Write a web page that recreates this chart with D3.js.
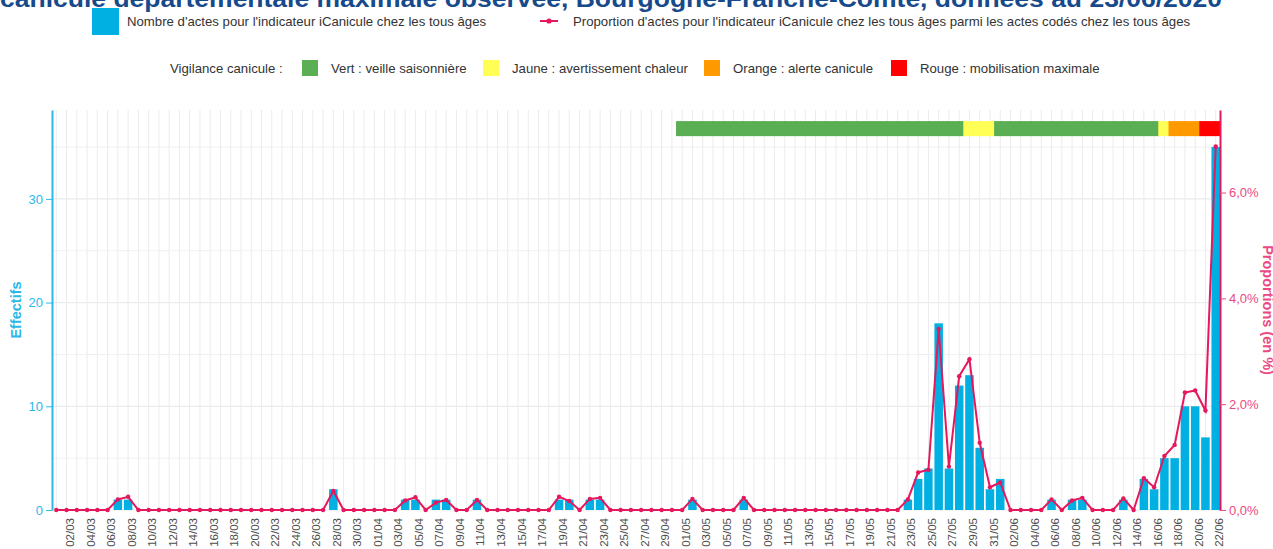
<!DOCTYPE html>
<html>
<head>
<meta charset="utf-8">
<script src="https://cdn.jsdelivr.net/npm/d3@7"></script>
<style>
  body { margin: 0; background: #fff; }
  svg text { font-family: "Liberation Sans", Arial, sans-serif; }
</style>
</head>
<body>
<svg id="chart" width="1273" height="549"></svg>
<script>
// categories : un jour par barre, du 01/03 au 22/06
var days = d3.timeDay.range(new Date(2020, 2, 1), new Date(2020, 5, 23));
var fmt = d3.timeFormat("%d/%m");
var labels = days.map(fmt);

// nombre d'actes iCanicule (tous ages)
var counts = [
  0,0,0,0,0,0,1,1,0,0,
  0,0,0,0,0,0,0,0,0,0,
  0,0,0,0,0,0,0,2,0,0,
  0,0,0,0,1,1,0,1,1,0,
  0,1,0,0,0,0,0,0,0,1,
  1,0,1,1,0,0,0,0,0,0,
  0,0,1,0,0,0,0,1,0,0,
  0,0,0,0,0,0,0,0,0,0,
  0,0,0,1,3,4,18,4,12,13,
  6,2,3,0,0,0,0,1,0,1,
  1,0,0,0,1,0,3,2,5,5,
  10,10,7,35
];

// proportion parmi les actes codes (en %)
var props = [
  0,0,0,0,0,0,0.20,0.25,0,0,
  0,0,0,0,0,0,0,0,0,0,
  0,0,0,0,0,0,0,0.36,0,0,
  0,0,0,0,0.18,0.24,0,0.14,0.19,0,
  0,0.19,0,0,0,0,0,0,0,0.25,
  0.17,0,0.21,0.23,0,0,0,0,0,0,
  0,0,0.21,0,0,0,0,0.23,0,0,
  0,0,0,0,0,0,0,0,0,0,
  0,0,0,0.20,0.71,0.76,3.42,0.82,2.53,2.85,
  1.27,0.43,0.52,0,0,0,0,0.20,0,0.18,
  0.23,0,0,0,0.22,0,0.60,0.43,1.02,1.23,
  2.22,2.26,1.88,6.87
];

// vigilance canicule : periodes
var vigStart = ["01/05", "29/05", "01/06", "17/06", "18/06", "21/06"];
var vigEnd   = ["28/05", "31/05", "16/06", "17/06", "20/06", "22/06"];
var vigLevel = ["vert", "jaune", "vert", "jaune", "orange", "rouge"];

var vigNames = ["Vert : veille saisonnière", "Jaune : avertissement chaleur",
                "Orange : alerte canicule", "Rouge : mobilisation maximale"];
var vigKeys = ["vert", "jaune", "orange", "rouge"];
var vigColors = ["#5aae53", "#ffff55", "#ff9900", "#ff0000"];

var countTicks = [0, 10, 20, 30];
var countMinor = [5, 15, 25, 35];
var propTicks = [0, 2, 4, 6];

var blue = "#00b0e2", blueTxt = "#2cb8e9";
var pink = "#e5185e", pinkTxt = "#ec4a82";

var svg = d3.select("#chart");
var plotL = 52, plotR = 1220, plotT = 110, plotB = 510;

var x = d3.scalePoint().domain(labels).range([56.3, 1215.7]);
var step = x.step();
var barW = step * 0.83;
var y = d3.scaleLinear().domain([0, 38.57]).range([plotB, plotT]);
var yP = d3.scaleLinear().domain([0, 7.56]).range([plotB, plotT]);
var vigColor = d3.scaleOrdinal().domain(vigKeys).range(vigColors);

// title (cut at the top like the original)
svg.append("text")
  .attr("x", 0).attr("y", 7)
  .attr("textLength", 1222).attr("lengthAdjust", "spacingAndGlyphs")
  .style("font-size", "24px").style("font-weight", "bold").style("fill", "#174a8b")
  .text("canicule départementale maximale observée, Bourgogne-Franche-Comté, données au 23/06/2020");

// grid
var grid = svg.append("g");
grid.selectAll(".gv").data(labels).enter().append("line")
  .attr("x1", function(d) { return x(d); }).attr("x2", function(d) { return x(d); })
  .attr("y1", plotT).attr("y2", plotB)
  .attr("stroke", "#ebebeb").attr("stroke-width", 1);
grid.selectAll(".gm").data(countMinor).enter().append("line")
  .attr("x1", plotL).attr("x2", plotR)
  .attr("y1", function(d) { return y(d); }).attr("y2", function(d) { return y(d); })
  .attr("stroke", "#f0f0f0").attr("stroke-width", 1);
grid.selectAll(".gM").data(countTicks).enter().append("line")
  .attr("x1", plotL).attr("x2", plotR)
  .attr("y1", function(d) { return y(d); }).attr("y2", function(d) { return y(d); })
  .attr("stroke", "#ebebeb").attr("stroke-width", 1.2);

// vigilance band
svg.append("g").selectAll("rect").data(vigLevel).enter().append("rect")
  .attr("x", function(d, i) { return x(vigStart[i]) - step / 2 - 1; })
  .attr("width", function(d, i) { return x(vigEnd[i]) - x(vigStart[i]) + step + 1; })
  .attr("y", y(37.5)).attr("height", y(36.05) - y(37.5))
  .attr("fill", function(d) { return vigColor(d); });

// bars
svg.append("g").selectAll("rect").data(counts).enter().append("rect")
  .attr("x", function(d, i) { return x(labels[i]) - barW / 2; })
  .attr("width", barW)
  .attr("y", function(d) { return y(d); })
  .attr("height", function(d) { return plotB - y(d); })
  .attr("fill", blue);

// line + points
var line = d3.line()
  .x(function(d, i) { return x(labels[i]); })
  .y(function(d) { return yP(d); });
svg.append("path").datum(props)
  .attr("d", line).attr("fill", "none")
  .attr("stroke", pink).attr("stroke-width", 2);
svg.append("g").selectAll("circle").data(props).enter().append("circle")
  .attr("cx", function(d, i) { return x(labels[i]); })
  .attr("cy", function(d) { return yP(d); })
  .attr("r", 2.2).attr("fill", pink);

// axes
var axL = svg.append("g").attr("transform", "translate(" + plotL + ",0)")
  .call(d3.axisLeft(y).tickValues(countTicks).tickSize(6).tickSizeOuter(0).tickPadding(3));
axL.select(".domain").attr("stroke", blueTxt).attr("stroke-width", 2);
axL.selectAll(".tick line").attr("stroke", blueTxt);
axL.selectAll("text").style("font-size", "13px").attr("fill", blueTxt);

var axR = svg.append("g").attr("transform", "translate(" + plotR + ",0)")
  .call(d3.axisRight(yP).tickValues(propTicks).tickSize(6).tickSizeOuter(0).tickPadding(3)
    .tickFormat(function(d) { return d3.format(".1f")(d).replace(".", ",") + "%"; }));
axR.select(".domain").attr("stroke", pink).attr("stroke-width", 2);
axR.selectAll(".tick line").attr("stroke", pinkTxt);
axR.selectAll("text").style("font-size", "13px").attr("fill", pinkTxt);

var axB = svg.append("g").attr("transform", "translate(0," + plotB + ")")
  .call(d3.axisBottom(x).tickValues(labels.filter(function(d, i) { return i % 2 == 1; })).tickSize(0));
axB.select(".domain").remove();
axB.selectAll("text")
  .attr("transform", "rotate(-90)")
  .attr("x", -8).attr("y", 3).attr("dy", "0.35em")
  .style("text-anchor", "end").style("font-size", "11.5px").attr("fill", "#4d4d4d");

// axis titles
svg.append("text")
  .attr("transform", "translate(21,310) rotate(-90)")
  .style("text-anchor", "middle").style("font-size", "14.5px").style("font-weight", "bold")
  .attr("fill", blueTxt).text("Effectifs");
svg.append("text")
  .attr("transform", "translate(1263,310) rotate(90)")
  .style("text-anchor", "middle").style("font-size", "14.5px").style("font-weight", "bold")
  .attr("fill", pinkTxt).text("Proportions (en %)");

// legend row 1
var lg = svg.append("g").style("font-size", "13.2px").attr("fill", "#333");
lg.append("rect").attr("x", 92).attr("y", 8).attr("width", 27).attr("height", 27).attr("fill", blue);
lg.append("text").attr("x", 127).attr("y", 26).text("Nombre d'actes pour l'indicateur iCanicule chez les tous âges");
lg.append("line").attr("x1", 540).attr("x2", 558).attr("y1", 21).attr("y2", 21)
  .attr("stroke", pink).attr("stroke-width", 2);
lg.append("circle").attr("cx", 549).attr("cy", 21).attr("r", 2.6).attr("fill", pink);
lg.append("text").attr("x", 573).attr("y", 26)
  .text("Proportion d'actes pour l'indicateur iCanicule chez les tous âges parmi les actes codés chez les tous âges");

// legend row 2
var lg2 = svg.append("g").style("font-size", "13.2px").attr("fill", "#333");
lg2.append("text").attr("x", 170).attr("y", 73).text("Vigilance canicule :");
var keyX = [302, 483, 704, 891];
vigKeys.forEach(function(k, i) {
  lg2.append("rect").attr("x", keyX[i]).attr("y", 60).attr("width", 16).attr("height", 16)
    .attr("fill", vigColor(k));
  lg2.append("text").attr("x", keyX[i] + 29).attr("y", 73).text(vigNames[i]);
});
</script>
</body>
</html>
